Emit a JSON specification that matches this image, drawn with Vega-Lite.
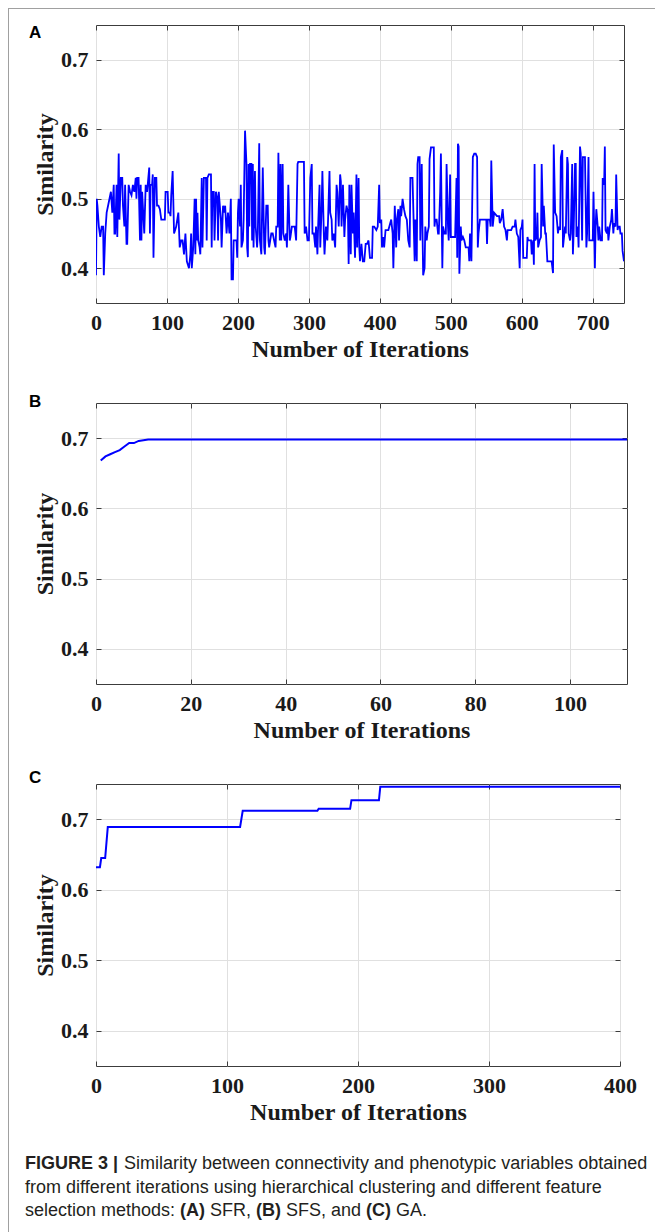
{
  "$schema": "https://vega.github.io/schema/vega-lite/v6.json",
  "background": "white",
  "padding": {"left": 8, "top": 8, "right": 0, "bottom": 0},
  "spacing": 0,
  "config": {
    "view": {"stroke": "#3c3c3c", "strokeWidth": 1},
    "axis": {
      "labelFont": "Liberation Serif", "labelFontWeight": "bold", "labelFontSize": 22, "labelColor": "#1a1a1a",
      "titleFont": "Liberation Serif", "titleFontWeight": "bold", "titleFontSize": 24, "titleColor": "#1a1a1a",
      "domain": false, "tickColor": "#3c3c3c", "tickSize": -5, "tickWidth": 1,
      "gridColor": "#e0e0e0", "gridWidth": 1,
      "labelFlush": false, "labelOverlap": false, "labelBound": false
    },
    "axisX": {"labelPadding": 14, "titlePadding": 4},
    "axisY": {"labelPadding": 13, "titlePadding": 3},
    "title": {"font": "Liberation Sans", "fontWeight": "bold", "fontSize": 17, "color": "#000000", "anchor": "start", "frame": "group"}
  },
  "hconcat": [
    {"width": 1, "height": 1224, "data": {"values": []}, "mark": "point", "view": {"fill": "#a0a0a0", "stroke": null}},
    {
      "spacing": 14,
      "vconcat": [
        {"width": 646, "height": 1, "data": {"values": []}, "mark": "point", "view": {"fill": "#a0a0a0", "stroke": null}},
        {
          "spacing": 0,
          "hconcat": [
            {"width": 16, "height": 1, "data": {"values": []}, "mark": "point", "view": {"fill": "white", "stroke": null}},
            {
              "spacing": 100,
              "bounds": "flush",
              "vconcat": [
                {
                  "width": 528, "height": 278,
                  "title": {"text": "A", "dx": -67, "offset": -17},
                  "data": {"values": [
{"i":0,"s":0.39},{"i":1,"s":0.5},{"i":2,"s":0.49},{"i":4,"s":0.46},{"i":6,"s":0.445},{"i":8,"s":0.46},{"i":10,"s":0.46},{"i":11,"s":0.39},{"i":13,"s":0.45},{"i":15,"s":0.48},{"i":17,"s":0.49},{"i":19,"s":0.5},{"i":21,"s":0.51},{"i":23,"s":0.48},{"i":25,"s":0.52},{"i":26,"s":0.45},{"i":27,"s":0.45},{"i":29,"s":0.52},{"i":30,"s":0.445},{"i":32,"s":0.565},{"i":33,"s":0.47},{"i":35,"s":0.53},{"i":37,"s":0.53},{"i":38,"s":0.49},{"i":40,"s":0.46},{"i":41,"s":0.52},{"i":43,"s":0.435},{"i":44,"s":0.435},{"i":46,"s":0.52},{"i":48,"s":0.51},{"i":50,"s":0.505},{"i":52,"s":0.52},{"i":54,"s":0.51},{"i":56,"s":0.53},{"i":57,"s":0.5},{"i":58,"s":0.53},{"i":60,"s":0.53},{"i":62,"s":0.44},{"i":63,"s":0.52},{"i":64,"s":0.44},{"i":65,"s":0.51},{"i":67,"s":0.47},{"i":68,"s":0.45},{"i":70,"s":0.52},{"i":72,"s":0.51},{"i":75,"s":0.545},{"i":76,"s":0.45},{"i":77,"s":0.52},{"i":79,"s":0.52},{"i":80,"s":0.535},{"i":81,"s":0.415},{"i":83,"s":0.53},{"i":85,"s":0.53},{"i":86,"s":0.49},{"i":88,"s":0.49},{"i":90,"s":0.485},{"i":92,"s":0.47},{"i":95,"s":0.47},{"i":97,"s":0.47},{"i":98,"s":0.51},{"i":100,"s":0.51},{"i":101,"s":0.51},{"i":102,"s":0.48},{"i":104,"s":0.48},{"i":105,"s":0.475},{"i":106,"s":0.505},{"i":108,"s":0.54},{"i":110,"s":0.45},{"i":113,"s":0.46},{"i":116,"s":0.48},{"i":118,"s":0.43},{"i":120,"s":0.44},{"i":122,"s":0.44},{"i":124,"s":0.42},{"i":126,"s":0.45},{"i":128,"s":0.41},{"i":131,"s":0.4},{"i":133,"s":0.42},{"i":134,"s":0.45},{"i":135,"s":0.4},{"i":137,"s":0.43},{"i":139,"s":0.5},{"i":140,"s":0.42},{"i":141,"s":0.5},{"i":142,"s":0.44},{"i":143,"s":0.48},{"i":144,"s":0.44},{"i":146,"s":0.43},{"i":147,"s":0.42},{"i":149,"s":0.53},{"i":150,"s":0.43},{"i":152,"s":0.53},{"i":155,"s":0.53},{"i":156,"s":0.44},{"i":157,"s":0.53},{"i":159,"s":0.535},{"i":162,"s":0.535},{"i":163,"s":0.43},{"i":164,"s":0.51},{"i":166,"s":0.51},{"i":167,"s":0.44},{"i":169,"s":0.51},{"i":171,"s":0.5},{"i":172,"s":0.44},{"i":173,"s":0.51},{"i":176,"s":0.47},{"i":177,"s":0.43},{"i":179,"s":0.49},{"i":180,"s":0.48},{"i":182,"s":0.49},{"i":184,"s":0.45},{"i":186,"s":0.48},{"i":188,"s":0.45},{"i":190,"s":0.5},{"i":191,"s":0.384},{"i":193,"s":0.384},{"i":194,"s":0.44},{"i":198,"s":0.44},{"i":199,"s":0.415},{"i":200,"s":0.48},{"i":201,"s":0.5},{"i":203,"s":0.46},{"i":204,"s":0.52},{"i":205,"s":0.43},{"i":207,"s":0.44},{"i":208,"s":0.47},{"i":210,"s":0.598},{"i":212,"s":0.55},{"i":213,"s":0.43},{"i":214,"s":0.416},{"i":215,"s":0.55},{"i":216,"s":0.46},{"i":217,"s":0.55},{"i":219,"s":0.55},{"i":220,"s":0.44},{"i":221,"s":0.55},{"i":222,"s":0.43},{"i":224,"s":0.54},{"i":225,"s":0.46},{"i":227,"s":0.43},{"i":228,"s":0.45},{"i":230,"s":0.58},{"i":231,"s":0.44},{"i":233,"s":0.42},{"i":235,"s":0.545},{"i":237,"s":0.43},{"i":238,"s":0.42},{"i":240,"s":0.49},{"i":242,"s":0.49},{"i":243,"s":0.44},{"i":244,"s":0.43},{"i":247,"s":0.45},{"i":249,"s":0.45},{"i":251,"s":0.44},{"i":253,"s":0.43},{"i":254,"s":0.46},{"i":256,"s":0.46},{"i":257,"s":0.566},{"i":259,"s":0.44},{"i":260,"s":0.55},{"i":261,"s":0.44},{"i":263,"s":0.55},{"i":264,"s":0.45},{"i":266,"s":0.44},{"i":268,"s":0.45},{"i":269,"s":0.43},{"i":271,"s":0.52},{"i":273,"s":0.44},{"i":274,"s":0.445},{"i":276,"s":0.46},{"i":278,"s":0.46},{"i":280,"s":0.46},{"i":282,"s":0.44},{"i":284,"s":0.55},{"i":285,"s":0.553},{"i":293,"s":0.553},{"i":294,"s":0.45},{"i":296,"s":0.46},{"i":298,"s":0.44},{"i":300,"s":0.44},{"i":302,"s":0.53},{"i":304,"s":0.55},{"i":305,"s":0.45},{"i":307,"s":0.45},{"i":309,"s":0.43},{"i":310,"s":0.46},{"i":312,"s":0.42},{"i":313,"s":0.46},{"i":315,"s":0.52},{"i":316,"s":0.43},{"i":318,"s":0.49},{"i":319,"s":0.54},{"i":321,"s":0.45},{"i":322,"s":0.42},{"i":324,"s":0.46},{"i":326,"s":0.44},{"i":327,"s":0.47},{"i":329,"s":0.54},{"i":330,"s":0.48},{"i":332,"s":0.47},{"i":333,"s":0.44},{"i":335,"s":0.45},{"i":337,"s":0.43},{"i":339,"s":0.52},{"i":340,"s":0.51},{"i":342,"s":0.46},{"i":344,"s":0.535},{"i":345,"s":0.525},{"i":346,"s":0.46},{"i":348,"s":0.52},{"i":350,"s":0.445},{"i":351,"s":0.47},{"i":353,"s":0.49},{"i":355,"s":0.48},{"i":356,"s":0.406},{"i":357,"s":0.52},{"i":359,"s":0.42},{"i":360,"s":0.52},{"i":362,"s":0.45},{"i":363,"s":0.48},{"i":365,"s":0.415},{"i":367,"s":0.535},{"i":368,"s":0.43},{"i":370,"s":0.53},{"i":371,"s":0.43},{"i":372,"s":0.41},{"i":374,"s":0.435},{"i":376,"s":0.41},{"i":378,"s":0.41},{"i":380,"s":0.435},{"i":382,"s":0.435},{"i":384,"s":0.44},{"i":386,"s":0.415},{"i":389,"s":0.415},{"i":390,"s":0.46},{"i":392,"s":0.46},{"i":395,"s":0.455},{"i":397,"s":0.46},{"i":399,"s":0.52},{"i":400,"s":0.465},{"i":402,"s":0.47},{"i":403,"s":0.43},{"i":405,"s":0.445},{"i":406,"s":0.43},{"i":408,"s":0.455},{"i":412,"s":0.455},{"i":416,"s":0.47},{"i":418,"s":0.45},{"i":419,"s":0.4},{"i":421,"s":0.49},{"i":423,"s":0.43},{"i":424,"s":0.47},{"i":426,"s":0.485},{"i":427,"s":0.44},{"i":429,"s":0.49},{"i":430,"s":0.475},{"i":432,"s":0.5},{"i":434,"s":0.485},{"i":436,"s":0.475},{"i":438,"s":0.47},{"i":440,"s":0.44},{"i":442,"s":0.43},{"i":443,"s":0.53},{"i":446,"s":0.53},{"i":448,"s":0.45},{"i":449,"s":0.41},{"i":450,"s":0.47},{"i":452,"s":0.41},{"i":453,"s":0.55},{"i":454,"s":0.56},{"i":456,"s":0.56},{"i":457,"s":0.44},{"i":459,"s":0.55},{"i":460,"s":0.46},{"i":461,"s":0.39},{"i":463,"s":0.4},{"i":464,"s":0.46},{"i":466,"s":0.44},{"i":467,"s":0.45},{"i":469,"s":0.46},{"i":470,"s":0.557},{"i":472,"s":0.574},{"i":476,"s":0.574},{"i":477,"s":0.46},{"i":478,"s":0.47},{"i":480,"s":0.47},{"i":482,"s":0.45},{"i":483,"s":0.45},{"i":485,"s":0.51},{"i":486,"s":0.565},{"i":488,"s":0.4},{"i":489,"s":0.46},{"i":491,"s":0.45},{"i":493,"s":0.45},{"i":494,"s":0.55},{"i":496,"s":0.46},{"i":497,"s":0.44},{"i":499,"s":0.535},{"i":500,"s":0.445},{"i":506,"s":0.445},{"i":508,"s":0.53},{"i":509,"s":0.415},{"i":510,"s":0.579},{"i":511,"s":0.575},{"i":512,"s":0.392},{"i":514,"s":0.46},{"i":515,"s":0.44},{"i":517,"s":0.445},{"i":519,"s":0.44},{"i":521,"s":0.43},{"i":525,"s":0.43},{"i":526,"s":0.41},{"i":527,"s":0.45},{"i":529,"s":0.41},{"i":531,"s":0.56},{"i":533,"s":0.565},{"i":535,"s":0.565},{"i":537,"s":0.56},{"i":538,"s":0.43},{"i":539,"s":0.45},{"i":541,"s":0.47},{"i":546,"s":0.47},{"i":550,"s":0.47},{"i":551,"s":0.435},{"i":552,"s":0.47},{"i":555,"s":0.47},{"i":556,"s":0.46},{"i":557,"s":0.555},{"i":559,"s":0.46},{"i":561,"s":0.48},{"i":565,"s":0.475},{"i":568,"s":0.475},{"i":569,"s":0.465},{"i":571,"s":0.47},{"i":573,"s":0.485},{"i":575,"s":0.46},{"i":577,"s":0.455},{"i":579,"s":0.44},{"i":580,"s":0.455},{"i":585,"s":0.455},{"i":587,"s":0.46},{"i":590,"s":0.46},{"i":591,"s":0.47},{"i":593,"s":0.45},{"i":595,"s":0.445},{"i":597,"s":0.4},{"i":598,"s":0.455},{"i":600,"s":0.46},{"i":601,"s":0.47},{"i":602,"s":0.415},{"i":607,"s":0.415},{"i":608,"s":0.445},{"i":609,"s":0.44},{"i":613,"s":0.44},{"i":614,"s":0.42},{"i":616,"s":0.44},{"i":617,"s":0.405},{"i":618,"s":0.55},{"i":619,"s":0.44},{"i":621,"s":0.445},{"i":622,"s":0.48},{"i":623,"s":0.43},{"i":625,"s":0.44},{"i":627,"s":0.445},{"i":628,"s":0.55},{"i":630,"s":0.46},{"i":631,"s":0.49},{"i":633,"s":0.45},{"i":634,"s":0.45},{"i":636,"s":0.41},{"i":642,"s":0.41},{"i":644,"s":0.393},{"i":645,"s":0.578},{"i":647,"s":0.48},{"i":649,"s":0.475},{"i":651,"s":0.45},{"i":652,"s":0.46},{"i":654,"s":0.455},{"i":655,"s":0.56},{"i":657,"s":0.57},{"i":658,"s":0.43},{"i":660,"s":0.45},{"i":661,"s":0.46},{"i":662,"s":0.45},{"i":664,"s":0.56},{"i":665,"s":0.55},{"i":666,"s":0.45},{"i":668,"s":0.44},{"i":669,"s":0.45},{"i":671,"s":0.55},{"i":672,"s":0.42},{"i":673,"s":0.45},{"i":675,"s":0.55},{"i":676,"s":0.55},{"i":677,"s":0.445},{"i":679,"s":0.46},{"i":680,"s":0.43},{"i":682,"s":0.575},{"i":683,"s":0.565},{"i":685,"s":0.44},{"i":686,"s":0.56},{"i":689,"s":0.56},{"i":691,"s":0.43},{"i":692,"s":0.45},{"i":694,"s":0.56},{"i":695,"s":0.44},{"i":700,"s":0.44},{"i":701,"s":0.51},{"i":703,"s":0.4},{"i":704,"s":0.46},{"i":705,"s":0.485},{"i":707,"s":0.46},{"i":708,"s":0.44},{"i":709,"s":0.46},{"i":711,"s":0.44},{"i":713,"s":0.44},{"i":714,"s":0.53},{"i":716,"s":0.52},{"i":717,"s":0.575},{"i":718,"s":0.455},{"i":720,"s":0.45},{"i":721,"s":0.46},{"i":722,"s":0.44},{"i":724,"s":0.46},{"i":726,"s":0.47},{"i":727,"s":0.485},{"i":729,"s":0.45},{"i":730,"s":0.465},{"i":732,"s":0.46},{"i":733,"s":0.535},{"i":735,"s":0.455},{"i":736,"s":0.46},{"i":738,"s":0.46},{"i":739,"s":0.45},{"i":741,"s":0.45},{"i":742,"s":0.425},{"i":744,"s":0.41}
                  ]},
                  "layer": [
                    {
                      "mark": {"type": "line", "color": "#0000ff", "strokeWidth": 1.8, "clip": true},
                      "encoding": {
                        "x": {"field": "i", "type": "quantitative", "scale": {"domain": [0, 744], "nice": false, "zero": false},
                              "axis": {"values": [0,100,200,300,400,500,600,700], "title": "Number of Iterations", "grid": true}},
                        "y": {"field": "s", "type": "quantitative", "scale": {"domain": [0.35, 0.75], "nice": false, "zero": false},
                              "axis": {"values": [0.4,0.5,0.6,0.7], "format": ".1f", "title": "Similarity", "grid": true}}
                      }
                    },
                    {
                      "mark": {"type": "line", "opacity": 0},
                      "encoding": {
                        "x": {"field": "i", "type": "quantitative", "axis": {"orient": "top", "values": [0,100,200,300,400,500,600,700], "labels": false, "title": null, "grid": false}},
                        "y": {"field": "s", "type": "quantitative", "axis": {"orient": "right", "values": [0.4,0.5,0.6,0.7], "labels": false, "title": null, "grid": false}}
                      }
                    }
                  ],
                  "resolve": {"axis": {"x": "independent", "y": "independent"}}
                },
                {
                  "width": 531, "height": 281,
                  "title": {"text": "B", "dx": -67, "offset": -8},
                  "data": {"values": [
{"i":1,"s":0.668},{"i":2,"s":0.674},{"i":3,"s":0.677},{"i":4,"s":0.68},{"i":5,"s":0.683},{"i":6,"s":0.688},{"i":7,"s":0.693},{"i":8,"s":0.693},{"i":9,"s":0.696},{"i":10,"s":0.697},{"i":11,"s":0.698},{"i":112,"s":0.698}
                  ]},
                  "layer": [
                    {
                      "mark": {"type": "line", "color": "#0000ff", "strokeWidth": 2, "clip": true},
                      "encoding": {
                        "x": {"field": "i", "type": "quantitative", "scale": {"domain": [0, 112], "nice": false, "zero": false},
                              "axis": {"values": [0,20,40,60,80,100], "title": "Number of Iterations", "grid": true}},
                        "y": {"field": "s", "type": "quantitative", "scale": {"domain": [0.35, 0.75], "nice": false, "zero": false},
                              "axis": {"values": [0.4,0.5,0.6,0.7], "format": ".1f", "title": "Similarity", "grid": true}}
                      }
                    },
                    {
                      "mark": {"type": "line", "opacity": 0},
                      "encoding": {
                        "x": {"field": "i", "type": "quantitative", "axis": {"orient": "top", "values": [0,20,40,60,80,100], "labels": false, "title": null, "grid": false}},
                        "y": {"field": "s", "type": "quantitative", "axis": {"orient": "right", "values": [0.4,0.5,0.6,0.7], "labels": false, "title": null, "grid": false}}
                      }
                    }
                  ],
                  "resolve": {"axis": {"x": "independent", "y": "independent"}}
                },
                {
                  "width": 524, "height": 282,
                  "title": {"text": "C", "dx": -67, "offset": -3},
                  "data": {"values": [
{"i":0,"s":0.632},{"i":3,"s":0.632},{"i":4,"s":0.645},{"i":7,"s":0.645},{"i":9,"s":0.689},{"i":110,"s":0.689},{"i":112,"s":0.712},{"i":169,"s":0.712},{"i":170,"s":0.715},{"i":194,"s":0.715},{"i":195,"s":0.727},{"i":216,"s":0.727},{"i":217,"s":0.746},{"i":400,"s":0.746}
                  ]},
                  "layer": [
                    {
                      "mark": {"type": "line", "color": "#0000ff", "strokeWidth": 2, "clip": true},
                      "encoding": {
                        "x": {"field": "i", "type": "quantitative", "scale": {"domain": [0, 400], "nice": false, "zero": false},
                              "axis": {"values": [0,100,200,300,400], "title": "Number of Iterations", "grid": true}},
                        "y": {"field": "s", "type": "quantitative", "scale": {"domain": [0.35, 0.75], "nice": false, "zero": false},
                              "axis": {"values": [0.4,0.5,0.6,0.7], "format": ".1f", "title": "Similarity", "grid": true}}
                      }
                    },
                    {
                      "mark": {"type": "line", "opacity": 0},
                      "encoding": {
                        "x": {"field": "i", "type": "quantitative", "axis": {"orient": "top", "values": [0,100,200,300,400], "labels": false, "title": null, "grid": false}},
                        "y": {"field": "s", "type": "quantitative", "axis": {"orient": "right", "values": [0.4,0.5,0.6,0.7], "labels": false, "title": null, "grid": false}}
                      }
                    }
                  ],
                  "resolve": {"axis": {"x": "independent", "y": "independent"}}
                },
                {
                  "width": 524, "height": 47,
                  "view": {"stroke": null},
                  "data": {"values": [
                    {"line": 1, "k": "fig", "t": "FIGURE 3 |"},
                    {"line": 1, "k": "r1", "t": "Similarity between connectivity and phenotypic variables obtained"},
                    {"line": 2, "k": "r0", "t": "from different iterations using hierarchical clustering and different feature"},
                    {"line": 3, "k": "r0", "t": "selection methods:"},
                    {"line": 3, "k": "a", "t": "(A)"},
                    {"line": 3, "k": "r2", "t": "SFR,"},
                    {"line": 3, "k": "b", "t": "(B)"},
                    {"line": 3, "k": "r3", "t": "SFS, and"},
                    {"line": 3, "k": "c", "t": "(C)"},
                    {"line": 3, "k": "r4", "t": "GA."}
                  ]},
                  "encoding": {
                    "x": {"value": 0},
                    "y": {"field": "line", "type": "ordinal", "axis": null, "scale": {"domain": [1, 2, 3], "padding": 0}},
                    "text": {"field": "t"}
                  },
                  "layer": [
                    {"transform": [{"filter": "datum.k == 'r0'"}], "mark": {"type": "text", "align": "left", "baseline": "middle", "font": "Liberation Sans", "fontSize": 18, "color": "#231f20", "dx": -71, "dy": -2}},
                    {"transform": [{"filter": "datum.k == 'fig'"}], "mark": {"type": "text", "align": "left", "baseline": "middle", "font": "Liberation Sans", "fontWeight": "bold", "fontSize": 18, "color": "#231f20", "dx": -71, "dy": -2}},
                    {"transform": [{"filter": "datum.k == 'r1'"}], "mark": {"type": "text", "align": "left", "baseline": "middle", "font": "Liberation Sans", "fontSize": 18, "color": "#231f20", "dx": 28, "dy": -2}},
                    {"transform": [{"filter": "datum.k == 'a'"}], "mark": {"type": "text", "align": "left", "baseline": "middle", "font": "Liberation Sans", "fontWeight": "bold", "fontSize": 18, "color": "#231f20", "dx": 84, "dy": -2}},
                    {"transform": [{"filter": "datum.k == 'r2'"}], "mark": {"type": "text", "align": "left", "baseline": "middle", "font": "Liberation Sans", "fontSize": 18, "color": "#231f20", "dx": 114, "dy": -2}},
                    {"transform": [{"filter": "datum.k == 'b'"}], "mark": {"type": "text", "align": "left", "baseline": "middle", "font": "Liberation Sans", "fontWeight": "bold", "fontSize": 18, "color": "#231f20", "dx": 160, "dy": -2}},
                    {"transform": [{"filter": "datum.k == 'r3'"}], "mark": {"type": "text", "align": "left", "baseline": "middle", "font": "Liberation Sans", "fontSize": 18, "color": "#231f20", "dx": 190, "dy": -2}},
                    {"transform": [{"filter": "datum.k == 'c'"}], "mark": {"type": "text", "align": "left", "baseline": "middle", "font": "Liberation Sans", "fontWeight": "bold", "fontSize": 18, "color": "#231f20", "dx": 270, "dy": -2}},
                    {"transform": [{"filter": "datum.k == 'r4'"}], "mark": {"type": "text", "align": "left", "baseline": "middle", "font": "Liberation Sans", "fontSize": 18, "color": "#231f20", "dx": 300, "dy": -2}}
                  ]
                }
              ]
            }
          ]
        }
      ]
    }
  ]
}
